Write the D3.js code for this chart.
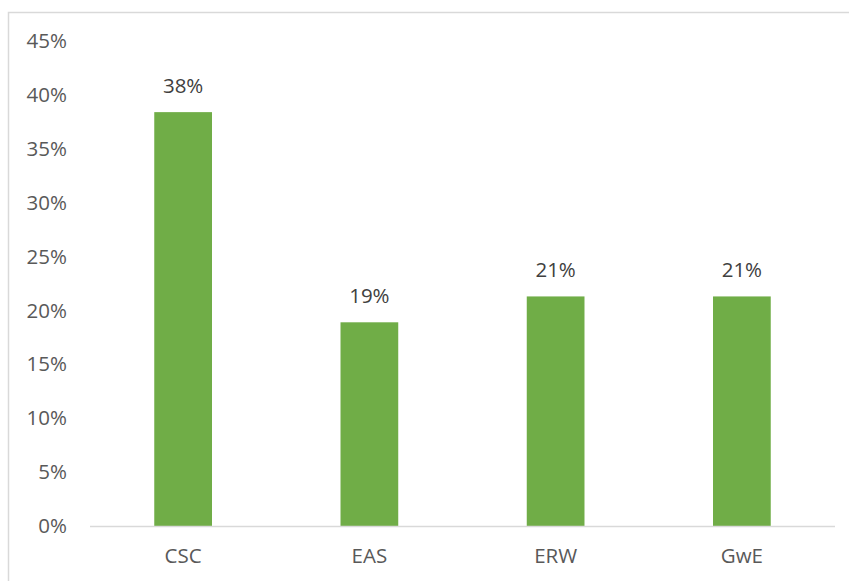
<!DOCTYPE html>
<html><head><meta charset="utf-8">
<script src="https://cdn.jsdelivr.net/npm/d3@7"></script>
<style>body{margin:0;background:#fff;} svg{display:block;font-family:"Open Sans",sans-serif;}</style>
</head><body>
<svg id="c" width="849" height="581"></svg>
<script>
const categories = ["CSC", "EAS", "ERW", "GwE"];
const values = [0.384, 0.189, 0.213, 0.213];
const dataLabels = ["38%", "19%", "21%", "21%"];
const yTicks = [0, 0.05, 0.10, 0.15, 0.20, 0.25, 0.30, 0.35, 0.40, 0.45];

const svg = d3.select("#c");
// chart border
svg.append("rect").attr("x", 8.5).attr("y", 12.5).attr("width", 860).attr("height", 600)
  .attr("fill", "none").attr("stroke", "#d9d9d9").attr("stroke-width", 1.5);

const x = d3.scaleBand().domain(categories).range([90, 835]).paddingInner(0.69).paddingOuter(0.345);
const y = d3.scaleLinear().domain([0, 0.45]).range([526, 41]);

svg.append("g").selectAll("rect").data(values).join("rect")
  .attr("x", (d, i) => x(categories[i]))
  .attr("width", x.bandwidth())
  .attr("y", d => y(d))
  .attr("height", d => y(0) - y(d))
  .attr("fill", "#70ad47");

// baseline
svg.append("line").attr("x1", 90).attr("x2", 835).attr("y1", 526.5).attr("y2", 526.5)
  .attr("stroke", "#d9d9d9").attr("stroke-width", 1.5);

const fs = 20.5;
// y axis
const yAxis = d3.axisLeft(y).tickValues(yTicks).tickFormat(d3.format(".0%")).tickSize(0).tickPadding(0);
const gy = svg.append("g").attr("transform", "translate(67,0)").call(yAxis);
gy.select(".domain").remove();
gy.selectAll("text").attr("fill", "#595959").attr("font-size", fs).attr("font-family", "Open Sans, sans-serif");

// x axis
const xAxis = d3.axisBottom(x).tickSize(0).tickPadding(0);
const gx = svg.append("g").attr("transform", "translate(0,548)").call(xAxis);
gx.select(".domain").remove();
gx.selectAll("text").attr("fill", "#595959").attr("font-size", fs).attr("font-family", "Open Sans, sans-serif");

// data labels
svg.append("g").selectAll("text").data(values).join("text")
  .attr("x", (d, i) => x(categories[i]) + x.bandwidth() / 2)
  .attr("y", d => y(d) - 19)
  .attr("text-anchor", "middle")
  .attr("fill", "#404040").attr("font-size", fs)
  .text((d, i) => dataLabels[i]);
</script>
</body></html>
